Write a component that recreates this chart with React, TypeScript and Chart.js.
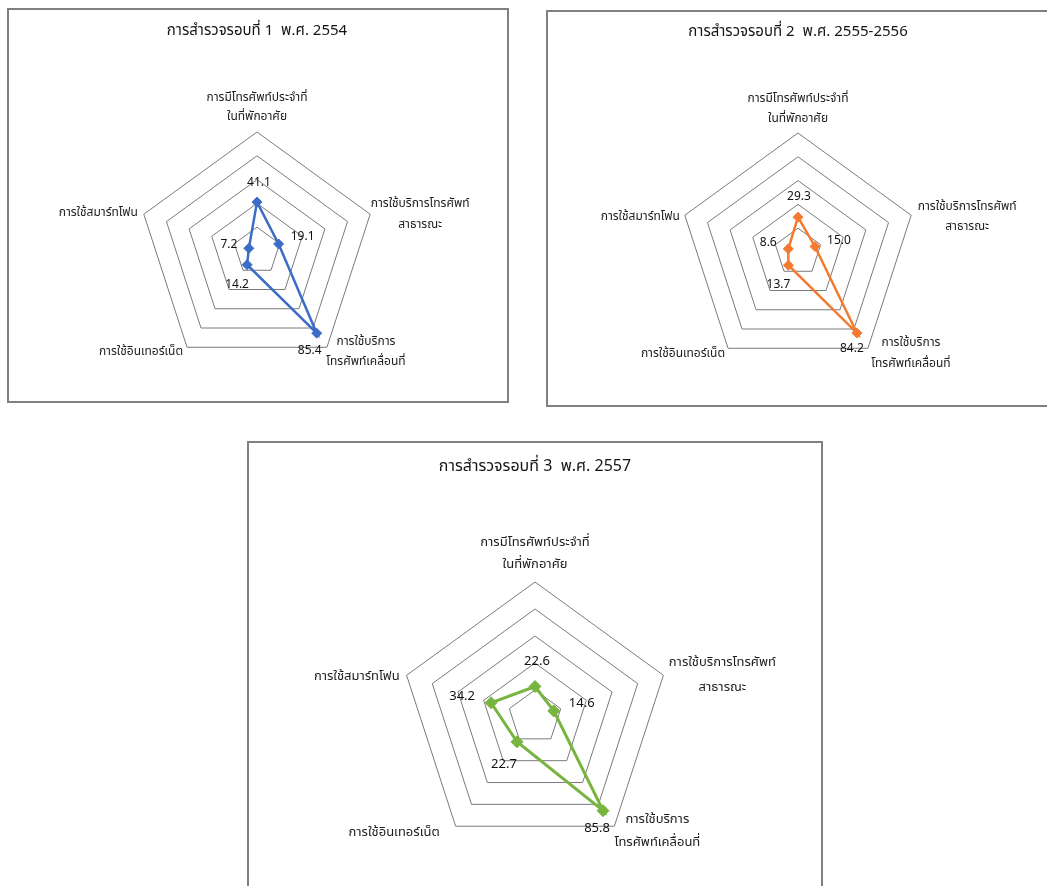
import React, { useEffect, useRef } from "react";
import { Chart, registerables } from "chart.js";

Chart.register(...registerables);

// ---------- DATA ----------
const categories: string[][] = [
  ["การมีโทรศัพท์ประจำที่", "ในที่พักอาศัย"],
  ["การใช้บริการโทรศัพท์", "สาธารณะ"],
  ["การใช้บริการ", "โทรศัพท์เคลื่อนที่"],
  ["การใช้อินเทอร์เน็ต"],
  ["การใช้สมาร์ทโฟน"],
];

const titles = [
  "การสำรวจรอบที่ 1  พ.ศ. 2554",
  "การสำรวจรอบที่ 2  พ.ศ. 2555-2556",
  "การสำรวจรอบที่ 3  พ.ศ. 2557",
];

const round1 = [41.1, 19.1, 85.4, 14.2, 7.2];
const round2 = [29.3, 15.0, 84.2, 13.7, 8.6];
const round3 = [22.6, 14.6, 85.8, 22.7, 34.2];

const scaleMin = 0;
const scaleMax = 100;
const scaleStep = 20;

// ---------- STYLE / LAYOUT ----------
const FONT = "Tahoma, 'Noto Sans Thai', 'Noto Sans', 'DejaVu Sans', sans-serif";
const BORDER = 2;

type LabelOff = { dx: number; dy: number; gap: number; align: CanvasTextAlign };

interface Panel {
  title: string;
  values: number[];
  color: string;
  box: { left: number; top: number; width: number; height: number };
  cx: number;
  cy: number;
  R: number;
  titleY: number;
  titleSize: number;
  labelSize: number;
  valueSize: number;
  pointRadius: number;
  lineWidth: number;
  labelOffs: LabelOff[];
  valueOffs: [number, number][];
}

const panels: Panel[] = [
  {
    title: titles[0],
    values: round1,
    color: "#3b6cc6",
    box: { left: 7, top: 8, width: 502, height: 395 },
    cx: 257,
    cy: 251,
    R: 119,
    titleY: 32,
    titleSize: 15,
    labelSize: 12,
    valueSize: 12,
    pointRadius: 5,
    lineWidth: 2.5,
    labelOffs: [
      { dx: 0, dy: -33, gap: 19, align: "center" },
      { dx: 50, dy: -10, gap: 21, align: "center" },
      { dx: 39, dy: -5, gap: 20, align: "center" },
      { dx: -4, dy: 5, gap: 0, align: "right" },
      { dx: -6, dy: -1, gap: 0, align: "right" },
    ],
    valueOffs: [[2, -19], [24, -6], [-7, 18], [-10, 21], [-20, -3]],
  },
  {
    title: titles[1],
    values: round2,
    color: "#f47a30",
    box: { left: 546, top: 10, width: 530, height: 397 },
    cx: 798,
    cy: 252,
    R: 119,
    titleY: 33,
    titleSize: 15,
    labelSize: 12,
    valueSize: 12,
    pointRadius: 5,
    lineWidth: 2.5,
    labelOffs: [
      { dx: 0, dy: -33, gap: 20, align: "center" },
      { dx: 56, dy: -8, gap: 20, align: "center" },
      { dx: 43, dy: -5, gap: 21, align: "center" },
      { dx: -3, dy: 6, gap: 0, align: "right" },
      { dx: -5, dy: 2, gap: 0, align: "right" },
    ],
    valueOffs: [[1, -20], [24, -5], [-5, 17], [-10, 20], [-20, -5]],
  },
  {
    title: titles[2],
    values: round3,
    color: "#78b440",
    box: { left: 247, top: 441, width: 576, height: 480 },
    cx: 535,
    cy: 717,
    R: 135,
    titleY: 468,
    titleSize: 16,
    labelSize: 13,
    valueSize: 13,
    pointRadius: 6,
    lineWidth: 3,
    labelOffs: [
      { dx: 0, dy: -39, gap: 22, align: "center" },
      { dx: 59, dy: -12, gap: 25, align: "center" },
      { dx: 43, dy: -6, gap: 23, align: "center" },
      { dx: -16, dy: 7, gap: 0, align: "right" },
      { dx: -7, dy: 2, gap: 0, align: "right" },
    ],
    valueOffs: [[2, -24], [28, -7], [-6, 19], [-13, 24], [-29, -5]],
  },
];

function RadarPanel({ p }: { p: Panel }) {
  const ref = useRef<HTMLCanvasElement | null>(null);
  const innerLeft = p.box.left + BORDER;
  const innerTop = p.box.top + BORDER;
  const innerW = p.box.width - 2 * BORDER;
  const innerH = p.box.height - 2 * BORDER;

  useEffect(() => {
    if (!ref.current) return;
    const padLeft = p.cx - p.R - innerLeft;
    const padRight = innerW - (p.cx + p.R - innerLeft);
    const padBottom = innerH - (p.cy + p.R - innerTop);
    const tPadTop = p.titleY - innerTop - 0.6 * p.titleSize;
    const tPadBottom = p.cy - p.R - innerTop - tPadTop - 1.2 * p.titleSize;

    const labelPlugin = {
      id: "customLabels",
      afterDraw(chart: any) {
        const ctx = chart.ctx;
        const scale = chart.scales.r;
        ctx.save();
        ctx.textBaseline = "middle";
        // category labels
        ctx.font = `${p.labelSize}px ${FONT}`;
        ctx.fillStyle = "#1c1c1c";
        categories.forEach((lines, i) => {
          const pos = scale.getPointPosition(i, scale.drawingArea);
          const o = p.labelOffs[i];
          ctx.textAlign = o.align;
          lines.forEach((ln, k) => {
            ctx.fillText(ln, pos.x + o.dx, pos.y + o.dy + k * o.gap);
          });
        });
        // value labels
        ctx.font = `${p.valueSize}px ${FONT}`;
        ctx.fillStyle = "#111";
        ctx.textAlign = "center";
        const meta = chart.getDatasetMeta(0);
        meta.data.forEach((el: any, i: number) => {
          const [dx, dy] = p.valueOffs[i];
          ctx.fillText(p.values[i].toFixed(1), el.x + dx, el.y + dy);
        });
        ctx.restore();
      },
    };

    const chart = new Chart(ref.current, {
      type: "radar",
      data: {
        labels: categories.map((c) => c.join(" ")),
        datasets: [
          {
            data: p.values,
            borderColor: p.color,
            backgroundColor: p.color,
            borderWidth: p.lineWidth,
            fill: false,
            pointStyle: "rectRot",
            pointRadius: p.pointRadius,
            pointBorderWidth: 1,
            pointBorderColor: p.color,
            pointBackgroundColor: p.color,
          },
        ],
      },
      options: {
        responsive: true,
        maintainAspectRatio: false,
        animation: false,
        layout: { padding: { left: padLeft, right: padRight, top: 0, bottom: padBottom } },
        plugins: {
          legend: { display: false },
          tooltip: { enabled: false },
          title: {
            display: true,
            text: p.title,
            color: "#151515",
            font: { family: FONT, size: p.titleSize, weight: "normal", lineHeight: 1.2 },
            padding: { top: tPadTop, bottom: tPadBottom },
          },
        },
        scales: {
          r: {
            min: scaleMin,
            max: scaleMax,
            ticks: { display: false, stepSize: scaleStep },
            grid: { color: "#7a7a7a", lineWidth: 1 },
            angleLines: { display: false },
            pointLabels: { display: false },
          },
        },
      },
      plugins: [labelPlugin],
    } as any);
    return () => chart.destroy();
  }, []);

  return (
    <div
      style={{
        position: "absolute",
        left: p.box.left,
        top: p.box.top,
        width: p.box.width,
        height: p.box.height,
        boxSizing: "border-box",
        border: `${BORDER}px solid #808080`,
        background: "#fff",
      }}
    >
      <div style={{ position: "relative", width: innerW, height: innerH }}>
        <canvas ref={ref} />
      </div>
    </div>
  );
}

export default function App() {
  return (
    <div
      style={{
        position: "fixed",
        left: 0,
        top: 0,
        width: 1047,
        height: 886,
        overflow: "hidden",
        background: "#fff",
      }}
    >
      {panels.map((p, i) => (
        <RadarPanel key={i} p={p} />
      ))}
    </div>
  );
}
